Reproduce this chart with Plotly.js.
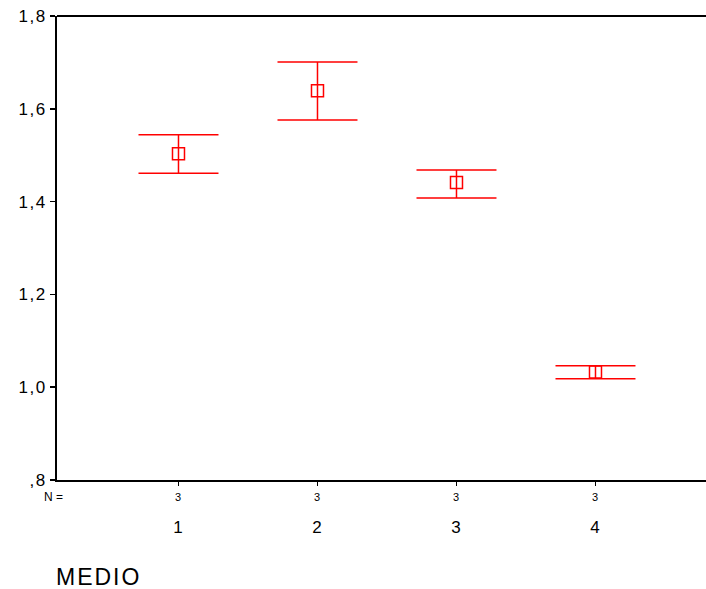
<!DOCTYPE html>
<html>
<head>
<meta charset="utf-8">
<script src="https://cdn.plot.ly/plotly-3.0.1.min.js"></script>
<style>
  html, body { margin: 0; padding: 0; background: #fff; }
  #chart { width: 706px; height: 589px; }
  .ytick text { letter-spacing: 1.5px; }
  .xtick text { letter-spacing: 1px; }
</style>
</head>
<body>
<div id="chart"></div>
<script>
// Data
const categories = [1, 2, 3, 4];
const categoryLabels = ["1", "2", "3", "4"];
const means = [1.503, 1.639, 1.441, 1.033];
const upper = [1.544, 1.701, 1.468, 1.046];
const lower = [1.461, 1.576, 1.408, 1.018];
const nValues = ["3", "3", "3", "3"];
const yTickVals = [0.8, 1.0, 1.2, 1.4, 1.6, 1.8];
const yTickText = [",8", "1,0", "1,2", "1,4", "1,6", "1,8"];
const xTitle = "MEDIO";

const errPlus = means.map((m, i) => upper[i] - m);
const errMinus = means.map((m, i) => m - lower[i]);

const FONT = "Liberation Sans, Arial, sans-serif";

const trace = {
  type: "scatter",
  mode: "markers",
  x: categories,
  y: means,
  marker: {
    symbol: "square-open",
    size: 12,
    color: "#ff0000",
    line: { color: "#ff0000", width: 1.5 }
  },
  error_y: {
    type: "data",
    symmetric: false,
    array: errPlus,
    arrayminus: errMinus,
    color: "#ff0000",
    thickness: 1.5,
    width: 40
  },
  hoverinfo: "skip",
  showlegend: false
};

const annotations = [];
annotations.push({
  xref: "paper", yref: "paper", x: -0.005, y: -0.0366,
  xanchor: "center", yanchor: "middle", showarrow: false,
  text: "N =", font: { family: FONT, size: 12, color: "#000" }
});
categories.forEach((c, i) => {
  annotations.push({
    xref: "x", yref: "paper", x: c, y: -0.0366,
    xanchor: "center", yanchor: "middle", showarrow: false,
    text: nValues[i], font: { family: FONT, size: 11, color: "#000" }
  });
});
annotations.push({
  xref: "paper", yref: "paper", x: -0.004, y: -0.209,
  xanchor: "left", yanchor: "middle", showarrow: false,
  text: '<span style="letter-spacing:2px">' + xTitle + '</span>',
  font: { family: FONT, size: 23, color: "#000" }
});

const layout = {
  width: 706,
  height: 589,
  margin: { l: 57, r: 0, t: 16, b: 109, pad: 0 },
  paper_bgcolor: "#ffffff",
  plot_bgcolor: "#ffffff",
  font: { family: FONT, color: "#000" },
  xaxis: {
    range: [0.126, 4.795],
    tickmode: "array",
    tickvals: categories,
    ticktext: categoryLabels,
    ticks: "outside",
    ticklen: 4,
    tickwidth: 1.5,
    tickcolor: "#000",
    showline: true,
    linewidth: 2,
    linecolor: "#000",
    showgrid: false,
    zeroline: false,
    ticklabelstandoff: 27,
    tickfont: { family: FONT, size: 17, color: "#000" }
  },
  yaxis: {
    range: [0.8, 1.8],
    tickmode: "array",
    tickvals: yTickVals,
    ticktext: yTickText,
    ticks: "outside",
    ticklen: 5,
    tickwidth: 1.5,
    tickcolor: "#000",
    showline: true,
    linewidth: 2,
    linecolor: "#000",
    showgrid: false,
    zeroline: false,
    tickfont: { family: FONT, size: 17, color: "#000" }
  },
  shapes: [{
    type: "line", xref: "paper", yref: "paper",
    x0: 0, x1: 1, y0: 1, y1: 1,
    line: { color: "#000", width: 2 }
  }],
  annotations: annotations
};

Plotly.newPlot("chart", [trace], layout, { staticPlot: true, displayModeBar: false });
</script>
</body>
</html>
